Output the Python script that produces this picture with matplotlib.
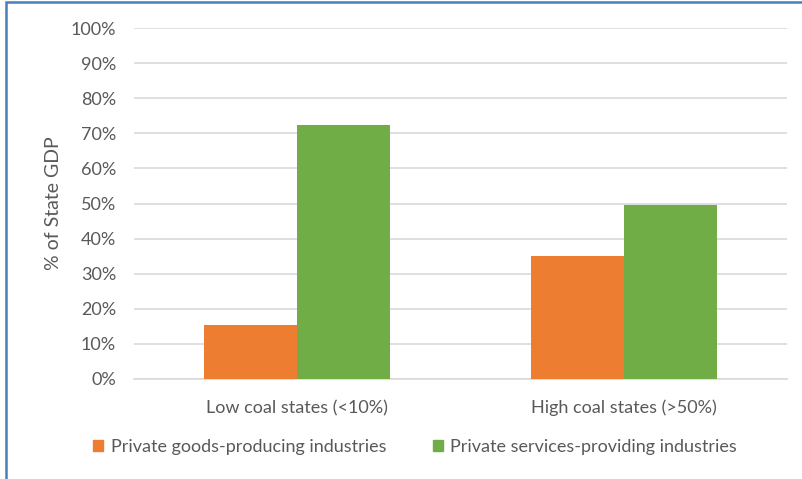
import matplotlib.pyplot as plt
import matplotlib.patches as mpatches
import numpy as np

categories = ['Low coal states (<10%)', 'High coal states (>50%)']
goods = [15.4, 35.0]
services = [72.4, 49.6]
series_names = ['Private goods-producing industries', 'Private services-providing industries']
yticks = [0, 10, 20, 30, 40, 50, 60, 70, 80, 90, 100]

orange = '#ed7d31'
green = '#70ad47'
grey = '#595959'

plt.rcParams['font.family'] = ['Lato', 'DejaVu Sans']

fig = plt.figure(figsize=(8.03, 4.79), dpi=100)
ax = fig.add_axes([0.1669, 0.2088, 0.8131, 0.7327])

x = np.arange(len(categories))
w = 0.285
ax.bar(x - w / 2, goods, w, color=orange, zorder=3, label=series_names[0])
ax.bar(x + w / 2, services, w, color=green, zorder=3, label=series_names[1])

ax.set_xlim(-0.5, 1.5)
ax.set_ylim(0, 100)
ax.set_yticks(yticks)
ax.set_yticklabels([f'{t}%' for t in yticks])
ax.set_xticks(x)
ax.set_xticklabels(categories)
ax.tick_params(axis='both', length=0, colors=grey, labelsize=13)
ax.tick_params(axis='y', pad=13)
ax.tick_params(axis='x', pad=15)
ax.yaxis.grid(True, color='#d9d9d9', linewidth=1.2, zorder=0)
for s in ['top', 'right', 'left']:
    ax.spines[s].set_visible(False)
ax.spines['bottom'].set_color('#d9d9d9')
ax.spines['bottom'].set_linewidth(1.2)

ax.set_ylabel('% of State GDP', color=grey, fontsize=14, labelpad=6)

handles = [mpatches.Patch(color=orange), mpatches.Patch(color=green)]
fig.legend(handles, series_names, loc='center', bbox_to_anchor=(0.517, 0.067), ncol=2,
           frameon=False, fontsize=13, labelcolor=grey, handlelength=0.55,
           handleheight=0.55, handletextpad=0.4, columnspacing=2.6)

# blue outer frame (only left and top visible in the crop)
fig.add_artist(mpatches.Rectangle((6 / 803, -0.1), 1.2, 1 - 2 / 479 + 0.1,
                                  transform=fig.transFigure, fill=False,
                                  edgecolor='#4a7ebb', linewidth=1.8))

fig.savefig('out.png', dpi=100)
